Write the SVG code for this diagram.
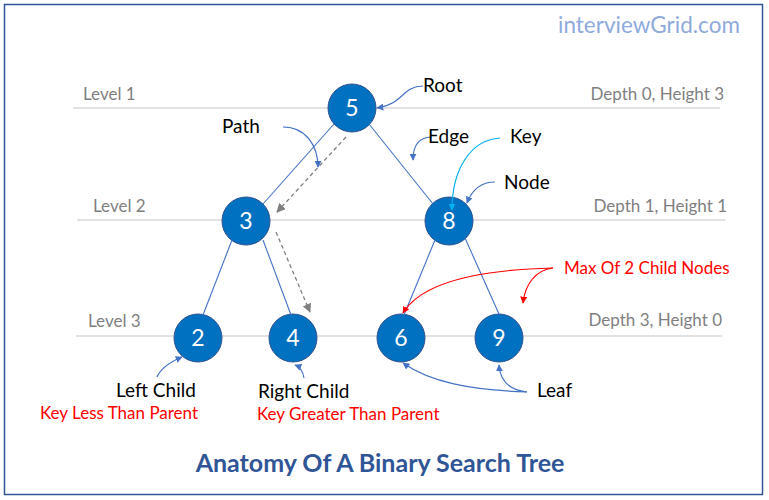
<svg xmlns="http://www.w3.org/2000/svg" width="769" height="500" viewBox="0 0 769 500">
<defs>
<style>
.lvl{stroke:#d9d9d9;stroke-width:1.3;fill:none}
.edge{stroke:#4472c4;stroke-width:1.1;fill:none}
.dash{stroke:#7f7f7f;stroke-width:1.3;stroke-dasharray:4 3;fill:none}
.cb{stroke:#4472c4;stroke-width:1.2;fill:none}
.cc{stroke:#00b0f0;stroke-width:1.2;fill:none}
.cr{stroke:#ff0000;stroke-width:1.2;fill:none}
.node circle{fill:#0070c0;stroke:#2f528f;stroke-width:1}
.node text{fill:#fff;font-family:Lato,"Open Sans",sans-serif;font-size:23px;text-anchor:middle}
.t{font-family:Lato,"Open Sans",sans-serif}
.gray{fill:#7f7f7f;font-size:17px}
.blk{fill:#000;font-size:19px}
.red{fill:#ff0000;font-size:17px}
</style>
<marker id="ab" viewBox="0 0 10 10" refX="9" refY="5" markerWidth="7" markerHeight="7" orient="auto" markerUnits="userSpaceOnUse"><path d="M0,0 L10,5 L0,10 z" fill="#4472c4"/></marker>
<marker id="ac" viewBox="0 0 10 10" refX="9" refY="5" markerWidth="7" markerHeight="7" orient="auto" markerUnits="userSpaceOnUse"><path d="M0,0 L10,5 L0,10 z" fill="#00b0f0"/></marker>
<marker id="ar" viewBox="0 0 10 10" refX="9" refY="5" markerWidth="7" markerHeight="7" orient="auto" markerUnits="userSpaceOnUse"><path d="M0,0 L10,5 L0,10 z" fill="#ff0000"/></marker>
<marker id="ag" viewBox="0 0 10 10" refX="9" refY="5" markerWidth="9" markerHeight="9" orient="auto" markerUnits="userSpaceOnUse"><path d="M0,0 L10,5 L0,10 z" fill="#7f7f7f"/></marker>
</defs>
<rect x="0" y="0" width="769" height="500" fill="#fff"/>
<rect x="4.5" y="4.5" width="758" height="490" fill="none" stroke="#2f5597" stroke-width="1.5"/>

<g id="levels">
<line class="lvl" x1="73" y1="108" x2="720" y2="108"/>
<line class="lvl" x1="77" y1="220" x2="725" y2="220"/>
<line class="lvl" x1="76" y1="336" x2="722" y2="336"/>
</g>

<g id="node5" class="node"><circle cx="352" cy="108" r="24"/><text x="352" y="116">5</text></g>
<g id="node3" class="node"><circle cx="246" cy="221" r="24"/><text x="246" y="229">3</text></g>
<g id="node8" class="node"><circle cx="449" cy="221" r="24"/><text x="449" y="229">8</text></g>
<g id="node2" class="node"><circle cx="198" cy="338" r="24"/><text x="198" y="346">2</text></g>
<g id="node4" class="node"><circle cx="293" cy="338" r="24"/><text x="293" y="346">4</text></g>
<g id="node6" class="node"><circle cx="401" cy="338" r="24"/><text x="401" y="346">6</text></g>
<g id="node9" class="node"><circle cx="499" cy="338" r="24"/><text x="499" y="346">9</text></g>

<g id="connectors">
<line class="edge" x1="334" y1="124" x2="263" y2="204"/>
<line class="edge" x1="369" y1="124" x2="433" y2="204"/>
<line class="edge" x1="232" y1="240" x2="203" y2="315"/>
<line class="edge" x1="263" y1="240" x2="291" y2="315"/>
<line class="edge" x1="435" y1="240" x2="404" y2="315"/>
<line class="edge" x1="465" y1="238" x2="499" y2="314"/>
<path class="dash" d="M346,137 L277,212" marker-end="url(#ag)"/>
<path class="dash" d="M276,232 L310,312" marker-end="url(#ag)"/>
<path class="cb" d="M423,86 C402,86 404,104 377,108" marker-end="url(#ab)"/>
<path class="cb" d="M430,137 C418,138 413,146 413,160" marker-end="url(#ab)"/>
<path class="cb" d="M283,127 C306,127 318,146 318,167" marker-end="url(#ab)"/>
<path class="cc" d="M500,138 C470,140 452,170 452,210" marker-end="url(#ac)"/>
<path class="cb" d="M495,182 C481,182 472,190 467,203" marker-end="url(#ab)"/>
<path class="cb" d="M527,392 C470,390 430,382 403,363" marker-end="url(#ab)"/>
<path class="cb" d="M527,392 C508,390 500,380 499,365" marker-end="url(#ab)"/>
<path class="cb" d="M157,377 C161,368 170,362 182,357" marker-end="url(#ab)"/>
<path class="cb" d="M304,378 C303,371 300,367 295,365" marker-end="url(#ab)"/>
<path class="cr" d="M553,268 C470,270 420,285 403,313" marker-end="url(#ar)"/>
<path class="cr" d="M553,268 C535,270 525,285 523,303" marker-end="url(#ar)"/>
</g>

<g id="labels">
<text class="t" x="558" y="33" font-size="22.5" fill="#8eaadb">interviewGrid.com</text>
<text class="t gray" x="83" y="100">Level 1</text>
<text class="t gray" x="93" y="212">Level 2</text>
<text class="t gray" x="88" y="327">Level 3</text>
<text class="t gray" x="724" y="100" text-anchor="end">Depth 0, Height 3</text>
<text class="t gray" x="727" y="212" text-anchor="end">Depth 1, Height 1</text>
<text class="t gray" x="722" y="326" text-anchor="end">Depth 3, Height 0</text>
<text class="t blk" x="423" y="92">Root</text>
<text class="t blk" x="222" y="133">Path</text>
<text class="t blk" x="428" y="143">Edge</text>
<text class="t blk" x="510" y="143">Key</text>
<text class="t blk" x="504" y="189">Node</text>
<text class="t red" x="564" y="274">Max Of 2 Child Nodes</text>
<text class="t blk" x="116" y="397">Left Child</text>
<text class="t red" x="40" y="419">Key Less Than Parent</text>
<text class="t blk" x="258" y="398">Right Child</text>
<text class="t red" x="257" y="420">Key Greater Than Parent</text>
<text class="t blk" x="537" y="397">Leaf</text>
<text class="t" x="380" y="472" font-size="25" font-weight="bold" fill="#2f5597" text-anchor="middle">Anatomy Of A Binary Search Tree</text>
</g>
</svg>
